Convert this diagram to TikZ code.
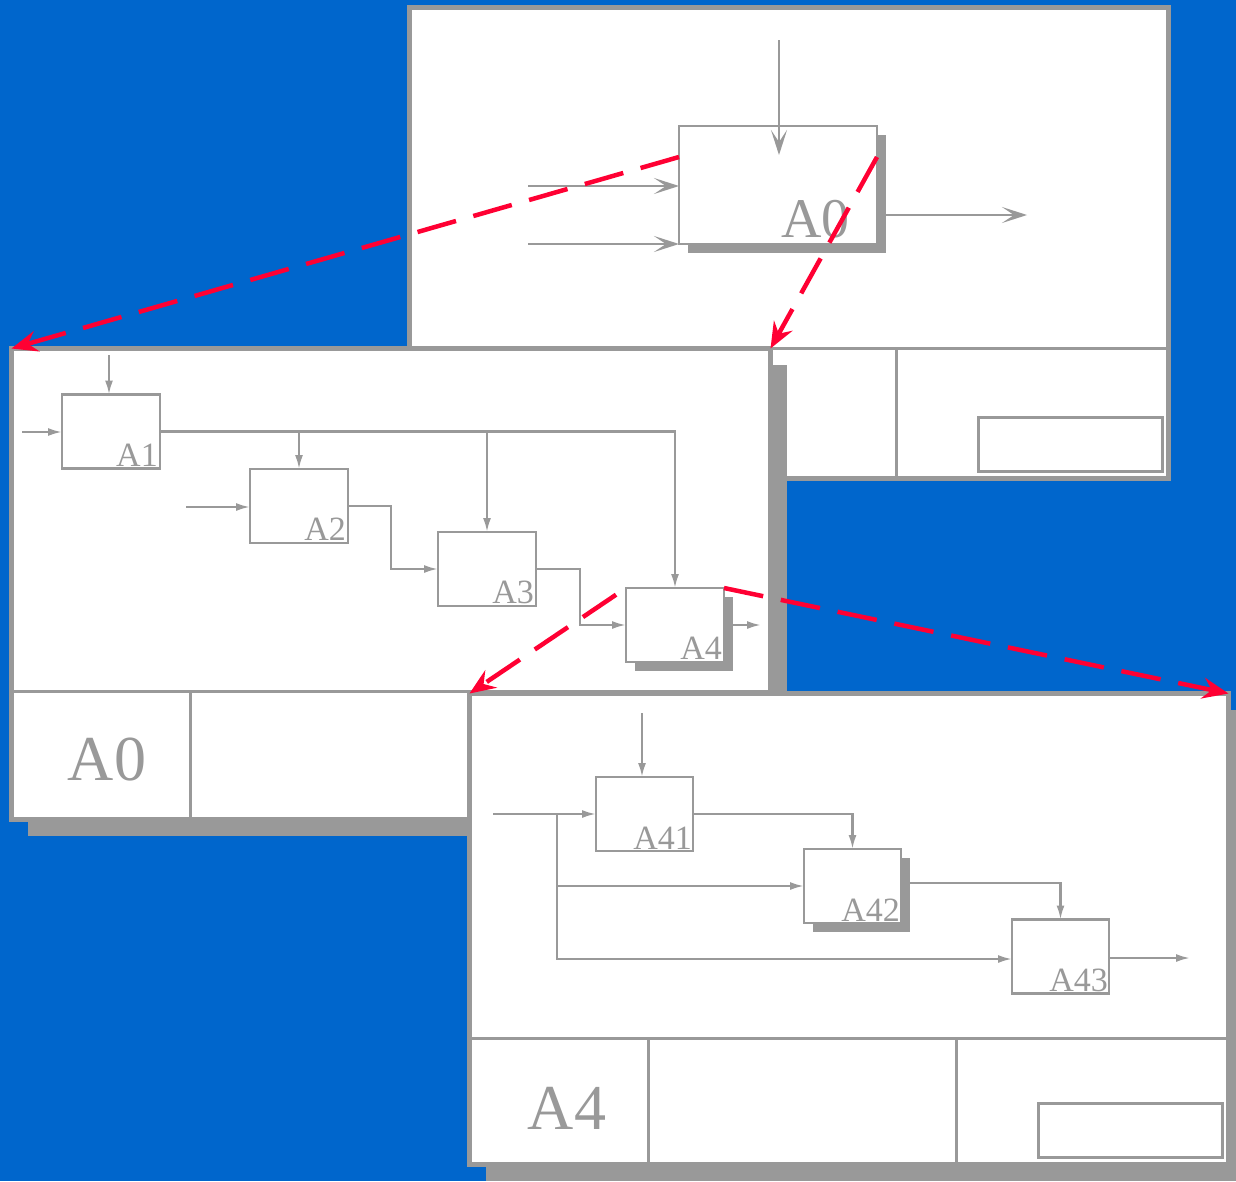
\documentclass[tikz,border=0pt]{standalone}
\usepackage{fontspec}
\setmainfont{Liberation Serif}
\usetikzlibrary{arrows.meta,shadows}
\definecolor{backblue}{HTML}{0066CC}
\definecolor{idefgray}{HTML}{999999}
\definecolor{linkred}{HTML}{FF0033}
\tikzstyle{sheet}=[draw=idefgray,fill=white,line width=5pt,minimum width=759pt,minimum height=471pt,inner sep=0pt,outer sep=0pt]
\tikzstyle{raised}=[drop shadow={shadow xshift=16pt,shadow yshift=-16pt,fill=idefgray,opacity=1}]
\tikzstyle{func}=[draw=idefgray,fill=white,line width=2.5pt,minimum width=98pt,minimum height=74pt,inner sep=0pt,outer sep=0pt]
\tikzstyle{plain}=[]
\tikzstyle{shadowed}=[drop shadow={shadow xshift=9pt,shadow yshift=-9pt,fill=idefgray,opacity=1}]
\tikzstyle{tag}=[text=idefgray,font=\fontsize{34}{34}\selectfont,inner sep=2pt,anchor=south east]
\tikzstyle{big tag}=[text=idefgray,font=\fontsize{64}{64}\selectfont,inner sep=0pt]
\tikzstyle{rule}=[draw=idefgray,line width=3pt]
\tikzstyle{flow}=[draw=idefgray,line width=2.2pt,-{Latex[length=14pt,width=8pt]}]
\tikzstyle{big flow}=[draw=idefgray,line width=2.5pt,-{Stealth[length=25pt,width=16pt,inset=12pt]}]
\tikzstyle{link}=[draw=linkred,line width=4.5pt,dash pattern=on 40pt off 18pt,-{Stealth[length=26pt,width=21pt,inset=9pt]}]

% title block of a sheet: the two cell lines and the small box
\newcommand{\titleblock}[2]{%
  \draw[rule] ([yshift=#2]#1.south west) -- ([yshift=#2]#1.south east);
  \foreach \dx in {178.5,487}
    \draw[rule] ([xshift=\dx pt,yshift=#2]#1.south west) -- ([xshift=\dx pt]#1.south west);
  \draw[rule] ([shift={(-190pt,61pt)}]#1.south east) rectangle ([shift={(-6pt,7pt)}]#1.south east);
}

\begin{document}
\begin{tikzpicture}[x=1pt,y=-1pt]
  \useasboundingbox (0,0) rectangle (1236,1181);
  \clip (0,0) rectangle (1236,1181);
  \fill[backblue] (0,0) rectangle (1236,1181);

  % The context sheet with the single box A0
  \node[sheet] (ctx) at (789,243) {};
  \node[func,shadowed,minimum width=198pt,minimum height=118pt] (A0) at (778,185) {};
  \node[tag,font=\fontsize{56}{56}\selectfont,xshift=-25pt,yshift=4pt] (A0-tag) at (A0.south east) {A0};
  \coordinate (A0-ctrl) at (779,40);
  \coordinate (A0-in1) at (528,186);
  \coordinate (A0-in2) at (528,244);
  \coordinate (A0-out) at (1027,215);
  \draw[big flow] (A0-ctrl) -- ([yshift=-29pt]A0-ctrl |- A0.north);
  \foreach \name in {A0-in1,A0-in2}
    \draw[big flow] (\name) -- (\name -| A0.west);
  \draw[big flow] ([xshift=9pt]A0-out -| A0.east) -- (A0-out);
  \titleblock{ctx}{130.5pt}

  % The A0 sheet: boxes A1 to A4
  \node[sheet,raised] (dia0) at (391,584) {};
  \foreach \pos/\name/\look in {{(111,431.5)/A1/plain}, {(299,506)/A2/plain}, {(487,569)/A3/plain}, {(675,625)/A4/shadowed}}
    \node[func,\look] (\name) at \pos {};
  \foreach \name in {A1,A2,A3,A4}
    \node[tag] (\name-tag) at (\name.south east) {\name};
  \coordinate (A1-ctrl) at (109,355);
  \coordinate (A1-in) at (22,432);
  \coordinate (A2-in) at (186,507);
  \coordinate (A4-out) at (761,625);
  \draw[flow] (A1-ctrl) -- (A1-ctrl |- A1.north);
  \draw[flow] (A1-in) -- (A1-in -| A1.west);
  \draw[flow] (A2-in) -- (A2-in -| A2.west);
  \draw[flow] (A1.east) -| (A4.north);
  \foreach \dest in {A2,A3}
    \draw[flow] (A1.east -| \dest.north) -- (\dest.north);
  \draw[flow] (A2.east) -- ++(43,0) |- (A3.west);
  \draw[flow] (A3.east) -- ++(44,0) |- (A4.west);
  \draw[flow] ([xshift=9pt]A4.east) -- (A4-out);
  \titleblock{dia0}{128.5pt}
  \node[big tag] (dia0-tag) at (107,760) {A0};

  % The A4 sheet: boxes A41 to A43
  \node[sheet,raised] (dia4) at (849,929) {};
  \foreach \pos/\name/\look in {{(644.5,814)/A41/plain}, {(852.5,886)/A42/shadowed}, {(1060.5,956.5)/A43/plain}}
    \node[func,\look,minimum width=97pt] (\name) at \pos {};
  \foreach \name in {A41,A42,A43}
    \node[tag,inner sep=1pt] (\name-tag) at (\name.south east) {\name};
  \coordinate (A41-ctrl) at (642,713);
  \coordinate (A41-in) at (493,814);
  \coordinate (fork) at (557,814);
  \coordinate (fork-low) at (557,959);
  \coordinate (A43-out) at (1190,958);
  \draw[flow] (A41-ctrl) -- (A41-ctrl |- A41.north);
  \draw[flow] (A41-in) -- (A41-in -| A41.west);
  \draw[flow] (fork) -- (fork-low) -- (fork-low -| A43.west);
  \draw[flow] (fork |- A42.west) -- (A42.west);
  \draw[flow] (A41.east) -| (A42.north);
  \draw[flow] ([xshift=9pt,yshift=3pt]A42.east) -| (A43.north);
  \draw[flow] (A43.east |- A43-out) -- (A43-out);
  \titleblock{dia4}{126.5pt}
  \node[big tag] (dia4-tag) at (567,1108) {A4};

  % Red links from a box to its decomposition
  \draw[link] ([yshift=-31pt]A0.north west) -- (dia0.north west);
  \draw[link] ([yshift=-31pt]A0.north east) -- (dia0.north east);
  \draw[link,dash phase=46pt] (A4.north west) -- (dia4.north west);
  \draw[link] (A4.north east) -- (dia4.north east);
\end{tikzpicture}
\end{document}
